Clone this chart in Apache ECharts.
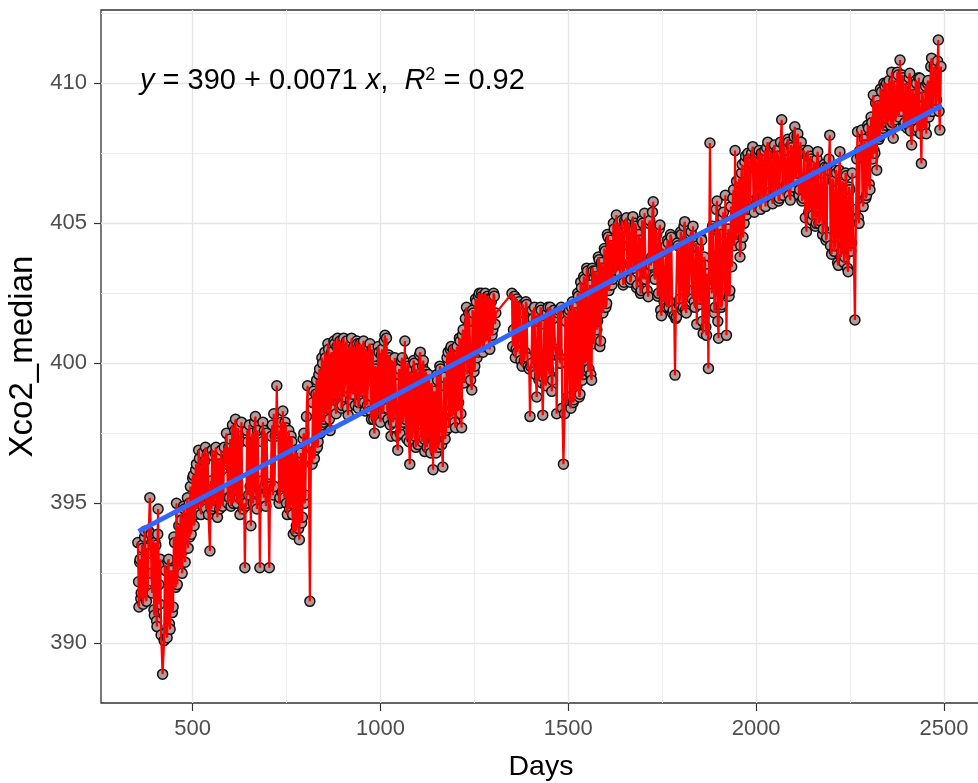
<!DOCTYPE html>
<html>
<head>
<meta charset="utf-8">
<script src="https://cdn.jsdelivr.net/npm/echarts@6/dist/echarts.min.js"></script>
<style>
html,body{margin:0;padding:0;background:#fff;}
#chart{width:978px;height:783px;}
</style>
</head>
<body>
<div id="chart"></div>
<script>
const part1 = [[354,393.6],[356,392.2],[357,391.3],[359,392.9],[360,393.0],[362,391.6],[363,391.8],[365,393.5],[367,393.4],[368,391.4],[370,392.0],[372,393.8],[373,394.0],[375,391.7],[377,391.5],[378,393.4],[380,393.2],[381,391.9],[383,394.0],[386,395.2],[389,393.9],[390,392.5],[392,391.8],[394,393.7],[395,393.6],[397,391.2],[398,391.0],[400,393.6],[402,393.5],[404,390.8],[405,390.6],[407,393.9],[408,394.8],[410,392.1],[412,391.4],[414,393.0],[416,390.3],[420,388.9],[424,390.1],[426,392.8],[428,392.6],[430,390.4],[432,390.2],[434,392.9],[436,393.0],[438,390.7],[440,390.5],[442,392.6],[444,392.4],[446,391.1],[448,391.3],[450,393.8],[452,393.6],[455,392.0],[457,395.0],[459,392.1],[461,393.0],[463,394.2],[466,392.7],[468,394.6],[470,394.4],[472,392.5],[474,393.3],[476,394.9],[478,394.8],[480,392.9],[482,393.8]];
const part2 = [[484,394.4],[486,395.2],[488,393.4],[491,395.0],[492,393.8],[494,395.6],[496,393.9],[498,394.3],[500,395.9],[502,396.0],[504,394.2],[506,394.6],[508,396.2],[510,396.4],[512,394.8],[514,395.0],[516,396.9],[518,396.6],[520,395.1],[522,394.6],[524,396.2],[526,396.8],[528,394.9],[530,395.3],[532,396.5],[534,397.0],[536,394.8],[538,395.6],[540,396.8],[542,394.6],[546,393.3],[548,395.8],[550,394.8],[552,396.9],[554,396.7],[556,394.9],[558,395.2],[560,396.8],[562,397.0],[564,395.1],[566,394.5],[568,396.6],[570,396.4],[572,394.8],[574,395.0],[576,396.9],[578,396.2],[580,394.9],[582,395.5],[584,397.0],[586,396.4],[588,396.5],[590,397.5],[592,396.5],[594,395.0],[596,397.0],[598,395.2],[600,397.3],[602,394.9],[604,396.8]];
const part3 = [[606,397.8],[608,395.0],[610,395.4],[612,397.6],[614,398.0],[616,395.4],[618,395.0],[620,397.7],[622,397.4],[624,395.2],[626,394.6],[628,397.2],[630,397.9],[632,395.1],[634,394.8],[637,395.0],[639,392.7],[641,394.9],[643,395.0],[645,397.6],[647,397.2],[649,395.3],[651,397.8],[653,395.6],[655,394.2],[657,397.1],[659,397.5],[661,395.0],[663,395.6],[665,397.9],[667,398.1],[669,395.4],[671,394.8],[673,397.6],[675,395.7],[677,395.5],[679,392.7],[681,395.6],[683,395.8],[685,397.2],[687,397.9],[689,395.2],[691,397.6],[693,395.6],[695,394.9],[697,397.5],[699,395.7],[701,395.5],[704,392.7],[706,395.4],[708,395.6],[710,397.4],[712,397.8],[714,395.3],[716,398.2],[718,395.6],[720,397.4],[722,397.6],[724,399.2],[726,397.5],[728,397.6],[730,395.0],[732,395.2],[734,397.7],[736,397.9],[738,395.4],[740,398.3],[742,396.0],[744,395.2],[746,397.9],[748,397.7],[750,395.0],[752,394.6],[754,397.3],[756,397.6],[758,394.8],[760,395.0],[762,397.4],[764,397.2],[766,394.6],[768,393.9],[770,396.6],[772,396.9],[774,394.0],[776,394.2],[778,396.8],[780,396.5],[782,394.1],[784,393.7],[786,396.3],[788,396.8],[790,394.3],[792,394.5],[794,397.3],[796,397.5],[798,395.0],[800,395.3],[803,398.1],[806,399.2],[809,397.0],[812,391.5],[815,397.0],[818,396.4],[820,398.6],[822,399.0],[824,396.6],[826,396.9]];
const part4 = [[828,398.9],[830,399.4],[832,397.0],[834,397.2],[836,399.6],[838,399.8],[840,397.5],[842,397.8],[844,400.2],[846,400.0],[848,397.9],[850,398.0],[852,400.4],[854,400.2],[856,398.2],[858,398.4],[860,400.7],[862,400.5],[864,398.0],[866,397.6],[868,400.3],[870,400.4],[872,398.5],[874,398.9],[876,400.8],[878,400.7],[880,398.4],[882,398.2],[884,400.6],[886,400.9],[888,398.6],[890,399.2],[892,400.8],[894,400.6],[896,398.4],[898,398.5],[900,400.7],[902,400.9],[904,398.8],[906,399.5],[908,400.6],[910,400.8],[912,398.4],[914,398.15],[916,400.5],[918,400.6],[920,398.7],[923,400.9],[925,399.0],[927,398.9],[929,400.6],[931,400.4],[933,398.5],[935,399.3],[937,400.8],[939,400.7],[941,398.4],[943,398.6],[945,400.7],[947,400.5],[949,398.8],[951,399.0],[953,400.6],[955,400.8],[957,398.6],[959,398.3],[961,400.5],[963,400.3],[965,398.5],[967,399.4],[969,400.6],[972,400.7],[974,398.3],[976,398.0],[978,400.5],[980,400.2],[982,398.0],[984,397.5],[986,399.9],[988,399.8],[990,398.0],[992,398.6],[994,400.6],[996,400.4],[998,398.2],[1000,397.9]];
const part5 = [[1002,400.3],[1004,400.5],[1006,398.2],[1008,398.4],[1010,400.8],[1012,401.0],[1014,398.6],[1016,400.9],[1018,398.4],[1020,398.0],[1022,400.3],[1024,400.2],[1026,397.8],[1028,397.4],[1030,400.1],[1032,400.0],[1034,397.9],[1036,398.2],[1038,400.2],[1040,399.6],[1043,397.4],[1046,396.9],[1048,399.6],[1050,399.8],[1052,397.5],[1054,397.8],[1056,400.1],[1058,400.2],[1060,397.9],[1062,398.5],[1065,400.8],[1067,398.0],[1070,397.3],[1072,400.0],[1074,399.9],[1076,397.2],[1078,396.4],[1080,399.7],[1082,399.5],[1084,397.3],[1086,397.6],[1088,400.1],[1090,400.0],[1092,397.4],[1094,397.0],[1096,399.8],[1098,399.4],[1100,397.1],[1102,398.0],[1104,400.3],[1106,400.4],[1108,397.5],[1110,397.2],[1112,399.9],[1114,400.1],[1116,397.3],[1118,396.85],[1120,399.7],[1122,399.6],[1124,397.0],[1126,397.5],[1128,399.6],[1130,399.2],[1132,397.0],[1134,396.8],[1136,399.3],[1138,398.9],[1140,396.2],[1142,398.6]];
const part6 = [[1144,399.0],[1146,396.9],[1148,396.8],[1150,399.6],[1152,399.4],[1154,397.0],[1156,397.2],[1158,399.9],[1160,399.8],[1163,397.1],[1166,396.3],[1168,399.2],[1170,399.5],[1172,397.3],[1174,397.6],[1177,400.2],[1180,400.4],[1182,397.7],[1184,397.9],[1186,400.5],[1188,400.6],[1190,398.1],[1192,398.4],[1194,400.5],[1196,400.3],[1198,397.9],[1200,397.7],[1202,400.4],[1204,400.6],[1206,398.3],[1208,398.6],[1210,400.9],[1212,400.8],[1214,398.2],[1216,397.7],[1218,401.0],[1220,401.2],[1222,399.3],[1224,399.6],[1226,401.6],[1229,402.0],[1231,399.6],[1233,399.9],[1235,401.8],[1237,401.5],[1240,399.4],[1243,399.05],[1245,401.9],[1247,401.8],[1249,399.7],[1251,399.9],[1253,402.3],[1255,402.2],[1257,400.2],[1259,400.4],[1261,402.4],[1263,402.5],[1265,400.5],[1267,400.8],[1269,402.5],[1271,402.4],[1273,400.4],[1275,400.6],[1277,402.3],[1279,402.5],[1281,400.8],[1283,401.0],[1285,402.4],[1287,402.3],[1289,400.7],[1291,400.5],[1293,402.3],[1295,402.2],[1297,401.0],[1299,401.2],[1301,402.5],[1303,402.4],[1305,401.4],[1307,401.8]];
const part7 = [[1350,402.5],[1352,400.6],[1354,401.2],[1357,402.4],[1359,400.2],[1361,400.5],[1363,402.3],[1365,400.4],[1367,400.8],[1369,402.2],[1371,402.0],[1374,400.1],[1377,399.9],[1379,402.1],[1381,401.8],[1383,400.1],[1385,400.4],[1387,402.2],[1389,402.1],[1391,400.2],[1393,399.9],[1396,399.8],[1398,398.1],[1400,399.9],[1402,400.0],[1404,401.9],[1406,401.6],[1408,399.7],[1410,402.0],[1413,399.6],[1416,398.8],[1418,401.8],[1420,401.5],[1422,399.4],[1424,399.6],[1426,402.0],[1428,401.9],[1430,399.3],[1432,398.15],[1434,399.5],[1436,401.4],[1438,401.7],[1440,399.2],[1442,399.5],[1444,401.8],[1446,402.0],[1448,399.8],[1450,399.6],[1452,402.0],[1454,401.8],[1456,399.0],[1458,399.4],[1460,401.6],[1462,401.9],[1465,400.5],[1467,400.3],[1469,398.2],[1471,400.4],[1473,401.8],[1475,401.9],[1477,400.2],[1479,400.0],[1481,402.0],[1484,398.4],[1487,396.4],[1490,398.2],[1492,401.7],[1494,401.5],[1496,398.6],[1498,398.8],[1500,401.8]];
const part8 = [[1503,401.9],[1505,398.5],[1507,398.4],[1509,402.0],[1511,402.2],[1513,398.6],[1515,398.7],[1517,402.0],[1519,401.8],[1521,399.0],[1523,399.2],[1525,402.5],[1527,402.4],[1529,398.8],[1531,398.9],[1533,402.9],[1535,402.7],[1537,399.4],[1539,399.6],[1541,403.1],[1543,403.0],[1545,400.0],[1547,400.1],[1549,403.4],[1551,403.3],[1553,399.7],[1555,399.8],[1558,402.8],[1560,399.6],[1562,399.4],[1564,403.4],[1566,403.3],[1568,400.7],[1570,400.9],[1572,403.3],[1574,403.1],[1576,401.2],[1578,401.5],[1580,403.8],[1582,403.7],[1584,400.6],[1586,400.8],[1588,403.6],[1590,403.4],[1592,401.8],[1594,402.0],[1596,404.1],[1598,404.0],[1600,402.0],[1602,402.14],[1604,404.6],[1606,404.5],[1608,402.6],[1610,402.8],[1612,404.4],[1614,404.2],[1616,402.8],[1618,403.0],[1620,405.0],[1622,404.8],[1625,403.2],[1628,405.3],[1630,403.3],[1632,403.4],[1634,405.0],[1636,404.6],[1638,403.2],[1640,403.6]];
const part9 = [[1642,405.1],[1644,404.2],[1646,402.8],[1648,402.9],[1650,405.1],[1652,405.0],[1655,405.2],[1657,403.2],[1659,403.3],[1661,405.0],[1663,404.8],[1665,402.9],[1667,403.0],[1670,405.1],[1672,405.24],[1674,403.4],[1676,403.6],[1678,405.0],[1680,404.9],[1682,402.7],[1684,402.8],[1687,404.6],[1690,404.4],[1692,402.5],[1694,402.6],[1696,405.1],[1698,405.0],[1701,403.0],[1703,405.36],[1706,403.0],[1708,403.2],[1710,402.6],[1713,402.38],[1715,405.0],[1717,405.1],[1720,403.5],[1722,403.8],[1724,405.4],[1726,405.77],[1729,403.1],[1731,403.0],[1733,404.8],[1735,404.6],[1738,402.4],[1740,402.5],[1742,404.8],[1744,404.94],[1746,401.9],[1748,401.7],[1750,404.1],[1752,404.0],[1755,402.2],[1757,402.4],[1760,404.2],[1762,402.0],[1764,404.4],[1766,404.3],[1768,402.0],[1770,402.2],[1772,404.6],[1774,404.5],[1777,401.8],[1779,401.9],[1782,401.7],[1784,399.58],[1786,401.6],[1788,401.66],[1790,404.3],[1792,404.2],[1795,402.1],[1797,402.3],[1799,404.7],[1801,404.6],[1804,401.9],[1806,402.0],[1808,404.9],[1810,405.06],[1812,401.9],[1814,401.8],[1816,404.4],[1818,404.3],[1820,402.4],[1822,402.6],[1825,404.6],[1827,404.7],[1830,402.3],[1832,404.9],[1835,402.2],[1837,402.0],[1840,404.3],[1842,401.4],[1844,404.2],[1846,404.1],[1849,402.1],[1851,402.3],[1853,404.5],[1855,404.4],[1857,401.5],[1859,401.07],[1862,403.8],[1864,403.5],[1866,401.3],[1868,401.0],[1870,403.2],[1873,399.82],[1877,407.87],[1880,403.0],[1882,402.5],[1884,404.9],[1886,404.8],[1889,401.8],[1891,402.0],[1894,405.5],[1896,405.8],[1898,401.5],[1900,400.9],[1902,404.8],[1904,404.6],[1907,402.0],[1909,402.1],[1911,405.2],[1913,405.4],[1916,402.5],[1918,406.0],[1921,401.0],[1923,404.0],[1926,404.8],[1928,402.4],[1930,402.6],[1933,405.6],[1935,403.45],[1938,405.9],[1940,406.2],[1942,404.2],[1944,407.6],[1946,404.4],[1948,406.5],[1950,404.8],[1953,404.6],[1955,406.6],[1957,403.8]];
const part10 = [[1959,404.2],[1961,406.8],[1963,407.1],[1965,404.5],[1968,405.0],[1970,407.2],[1972,407.4],[1974,405.3],[1976,405.5],[1978,407.5],[1980,407.3],[1982,405.8],[1984,405.5],[1986,407.0],[1988,407.5],[1991,407.74],[1993,405.6],[1995,405.4],[1997,407.4],[1999,407.3],[2001,405.7],[2003,405.9],[2006,407.5],[2008,407.6],[2010,405.6],[2012,405.5],[2014,407.5],[2016,407.4],[2019,405.9],[2021,406.0],[2023,407.6],[2025,405.6],[2028,407.7],[2031,407.9],[2033,406.0],[2035,406.1],[2038,407.6],[2040,407.5],[2042,405.9],[2044,405.7],[2047,407.7],[2049,407.8],[2051,406.1],[2053,406.3],[2056,407.6],[2058,407.4],[2060,405.8],[2062,405.9],[2065,407.9],[2068,408.7],[2070,406.2],[2072,406.0],[2074,407.8],[2076,407.6],[2079,406.2],[2081,406.4],[2084,408.0],[2086,407.9],[2088,406.0],[2091,405.83],[2093,407.8],[2095,407.7],[2097,406.3],[2099,406.5],[2101,408.1],[2103,408.45],[2105,406.6],[2107,406.8],[2109,408.1],[2111,408.2],[2114,406.0],[2116,406.2],[2118,407.9],[2120,407.9],[2122,405.8],[2125,405.9],[2127,407.6],[2129,407.5],[2131,405.2],[2134,404.7],[2136,407.4],[2138,407.6],[2140,405.4],[2143,405.6],[2145,407.4],[2147,407.3],[2149,405.1],[2152,405.3],[2154,407.2],[2156,407.1],[2158,404.9],[2160,405.0],[2162,407.3],[2164,407.56],[2167,405.0],[2170,405.1],[2172,407.0],[2174,406.8],[2177,404.6],[2179,404.8],[2181,407.1],[2183,407.0],[2186,404.4],[2188,404.5],[2190,407.0],[2192,406.9],[2194,407.3],[2196,408.15],[2198,404.2],[2201,403.9],[2203,406.6],[2205,406.5],[2208,404.0],[2210,404.2],[2212,406.9],[2214,406.8],[2217,403.6],[2219,403.5],[2221,406.9],[2223,407.56],[2226,403.8],[2228,404.0],[2230,406.5],[2232,406.4],[2234,403.6],[2236,403.8],[2238,406.8],[2240,406.7],[2243,403.4],[2245,403.27],[2247,406.3],[2249,406.2],[2252,404.0],[2254,404.3],[2256,406.8],[2258,405.4],[2263,401.55],[2266,405.5],[2268,407.3],[2270,408.27],[2272,405.2],[2274,405.0],[2276,407.6],[2278,407.4],[2281,408.33],[2283,405.8],[2285,405.6],[2288,408.0],[2290,407.8],[2292,405.9],[2294,406.0],[2297,408.5],[2299,408.4],[2301,406.4],[2303,406.2]];
const part11 = [[2306,408.8],[2308,408.6],[2310,407.3],[2312,409.58],[2314,407.6],[2316,407.5],[2318,409.3],[2321,406.9],[2323,409.4],[2325,409.2],[2327,408.0],[2329,408.1],[2331,409.8],[2334,409.7],[2336,408.3],[2338,408.4],[2340,410.0],[2343,409.9],[2345,408.5],[2347,410.0],[2349,408.6],[2352,408.7],[2354,410.1],[2356,409.8],[2358,408.5],[2361,410.4],[2363,408.6],[2365,408.04],[2367,410.1],[2369,409.9],[2371,408.7],[2374,408.9],[2376,410.4],[2378,410.3],[2380,408.8],[2383,410.83],[2385,409.1],[2387,409.0],[2389,410.3],[2391,410.2],[2393,408.5],[2396,408.6],[2398,410.0],[2400,409.8],[2402,408.4],[2405,408.5],[2407,410.2],[2409,410.36],[2411,408.3],[2414,407.8],[2416,409.8],[2418,409.6],[2420,408.6],[2422,408.7],[2425,410.1],[2427,410.0],[2429,408.3],[2431,408.4],[2433,410.2],[2436,410.18],[2438,408.2],[2440,407.14],[2442,409.7],[2444,409.5],[2447,408.4],[2449,408.5],[2451,409.9],[2453,408.2],[2456,410.0],[2458,410.1],[2460,408.8],[2462,409.0],[2465,410.6],[2467,410.9],[2469,409.0],[2471,409.2],[2474,410.6],[2476,410.5],[2478,409.2],[2480,409.4],[2483,410.8],[2485,411.55],[2487,409.0],[2489,408.33],[2492,410.6]];

// fitted regression line end points (as drawn in the reference)
const fitDays = [356, 2494];
const fitValues = [394.0, 409.2];
// axes
const xTicks = [500, 1000, 1500, 2000, 2500];
const xMinorTicks = [750, 1250, 1750, 2250];
const yTicks = [390, 395, 400, 405, 410];
const yMinorTicks = [392.5, 397.5, 402.5, 407.5, 412.5];
const xRange = [256, 2598.6];
const yRange = [387.87, 412.62];

const FONT = 'Liberation Sans, Arial, Helvetica, sans-serif';
const obs = [].concat(part1, part2, part3, part4, part5, part6, part7, part8, part9, part10, part11);
const fit = fitDays.map((d, i) => [d, fitValues[i]]);
const plain = v => String(v);

const chart = echarts.init(document.getElementById('chart'), null, {renderer: 'canvas'});
const majorGrid = {show: true, lineStyle: {color: '#e5e5e5', width: 1.3}};
const minorGrid = {show: true, lineStyle: {color: '#ededed', width: 1.0}};

chart.setOption({
  animation: false,
  backgroundColor: '#ffffff',
  title: {
    left: 140, top: 66, padding: 0,
    text: '{i|y} = 390 + 0.0071 {i|x},  {i|R}{s|2} = 0.92',
    textStyle: {
      fontFamily: FONT, fontSize: 29, color: '#000', fontWeight: 'normal',
      rich: {
        i: {fontFamily: FONT, fontSize: 29, fontStyle: 'italic', color: '#000'},
        s: {fontFamily: FONT, fontSize: 18, color: '#000', verticalAlign: 'top'}
      }
    }
  },
  grid: {left: 101, top: 10, width: 880, height: 693, show: true, containLabel: false,
         outerBoundsMode: 'none',
         borderColor: '#333333', borderWidth: 1.3, backgroundColor: 'transparent'},
  xAxis: [
    {type: 'value', min: xRange[0], max: xRange[1], position: 'bottom',
     axisLine: {show: false},
     axisTick: {show: true, customValues: xTicks, length: 8, lineStyle: {color: '#333333', width: 1.2}},
     axisLabel: {customValues: xTicks, formatter: plain, margin: 15, color: '#4d4d4d', fontSize: 22, fontFamily: FONT},
     splitLine: majorGrid,
     name: 'Days', nameLocation: 'middle', nameGap: 50,
     nameTextStyle: {fontFamily: FONT, fontSize: 28.5, color: '#000'}},
    {type: 'value', min: xRange[0], max: xRange[1], position: 'bottom',
     axisLine: {show: false}, axisTick: {show: false, customValues: xMinorTicks},
     axisLabel: {show: false, customValues: xMinorTicks}, splitLine: minorGrid}
  ],
  yAxis: [
    {type: 'value', min: yRange[0], max: yRange[1], position: 'left',
     axisLine: {show: false},
     axisTick: {show: true, customValues: yTicks, length: 7, lineStyle: {color: '#333333', width: 1.2}},
     axisLabel: {customValues: yTicks, formatter: plain, margin: 14, color: '#4d4d4d', fontSize: 22, fontFamily: FONT},
     splitLine: majorGrid,
     name: 'Xco2_median', nameLocation: 'middle', nameGap: 55, nameRotate: 90,
     nameTextStyle: {fontFamily: FONT, fontSize: 33, color: '#000'}},
    {type: 'value', min: yRange[0], max: yRange[1], position: 'left',
     axisLine: {show: false}, axisTick: {show: false, customValues: yMinorTicks},
     axisLabel: {show: false, customValues: yMinorTicks}, splitLine: minorGrid}
  ],
  series: [
    {type: 'scatter', xAxisIndex: 0, yAxisIndex: 0, data: obs, symbol: 'circle', symbolSize: 10,
     itemStyle: {color: '#b39b9b', borderColor: '#111111', borderWidth: 1.5, opacity: 1},
     z: 2, silent: true},
    {type: 'line', xAxisIndex: 0, yAxisIndex: 0, data: obs, showSymbol: false, symbol: 'none',
     lineStyle: {color: '#ff0000', width: 2.2}, z: 3, silent: true},
    {type: 'line', xAxisIndex: 0, yAxisIndex: 0, data: fit, showSymbol: false, symbol: 'none',
     lineStyle: {color: '#3366ff', width: 5}, z: 4, silent: true}
  ]
});
</script>
</body>
</html>
